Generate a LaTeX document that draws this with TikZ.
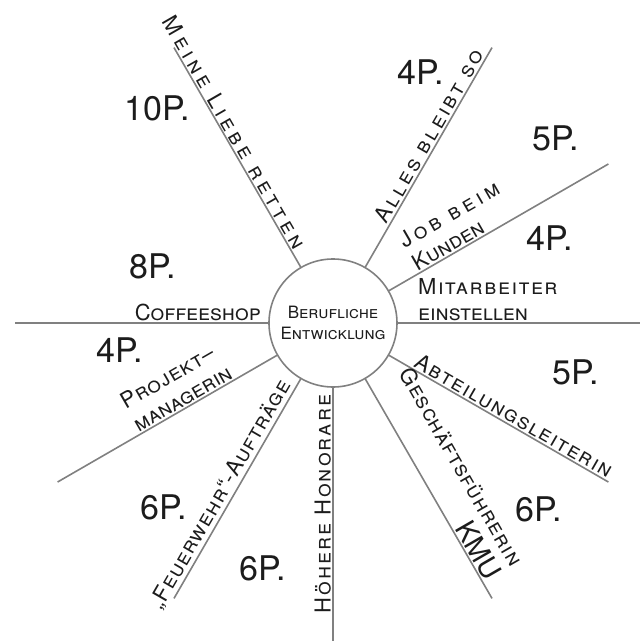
\documentclass[tikz,border=0pt]{standalone}
\usepackage{fontspec}
\setmainfont{TeX Gyre Heros}
\definecolor{spokegray}{RGB}{128,128,128}
\definecolor{inkblack}{RGB}{28,28,28}
\newcommand\track[1]{\addfontfeatures{LetterSpace=#1}}

\begin{document}
\begin{tikzpicture}[
  x=1pt, y=1pt,
  spoke/.style={draw=spokegray, line width=1.6pt},
  hubnode/.style={circle, draw=spokegray, line width=1.6pt, minimum size=128pt,
                  inner sep=0pt, align=center, text=inkblack,
                  font=\fontsize{17}{21}\selectfont\scshape},
  lab/.style={inner sep=2pt, text=inkblack, font=\fontsize{22}{26}\selectfont\scshape},
  pts/.style={inner sep=0pt, text=inkblack, font=\fontsize{34}{36}\selectfont}
]
  \useasboundingbox (-333,-320) rectangle (307,323);
  \node[hubnode] (hub) {Berufliche\\Entwicklung};

  % ends of the spokes
  \coordinate (e0) at (0:318);
  \coordinate (e30) at (30:318);
  \coordinate (e60) at (60:318);
  \coordinate (e120) at (120:318);
  \coordinate (e180) at (180:318);
  \coordinate (e210) at (210:318);
  \coordinate (e240) at (240:318);
  \coordinate (e270) at (270:318);
  \coordinate (e300) at (300:318);
  \coordinate (e330) at (330:318);

  \draw[spoke] (hub.0) -- (e0);
  \draw[spoke] (hub.30) -- (e30);
  \draw[spoke] (hub.60) -- (e60);
  \draw[spoke] (hub.120) -- (e120);
  \draw[spoke] (hub.180) -- (e180);
  \draw[spoke] (hub.210) -- (e210);
  \draw[spoke] (hub.240) -- (e240);
  \draw[spoke] (hub.270) -- (e270);
  \draw[spoke] (hub.300) -- (e300);
  \draw[spoke] (hub.330) -- (e330);

  % options along the spokes
  \node[lab, rotate=-60, anchor=south] (liebe) at (120:214) {\track{20}Meine Liebe retten};
  \node[lab, rotate=60, anchor=south] (bleibt) at (60:210) {\track{14}Alles bleibt so};
  \node[lab, rotate=30, anchor=south west, align=left] (kunde) at (30:97)
    {\track{18}Job beim\\Kunden};
  \node[lab, anchor=south west, align=left] (mitarb) at (0:83)
    {\track{7}Mitarbeiter\\einstellen};
  \node[lab, anchor=south east] (coffee) at (180:70) {Coffeeshop};
  \node[lab, rotate=30, anchor=south west, align=left] (projekt) at (210:225)
    {\track{4}Projekt--\\managerin};
  \node[lab, rotate=60, anchor=south] (feuer) at (240:205)
    {\track{5}„Feuerwehr“-Aufträge};
  \node[lab, rotate=90, anchor=south] (honorar) at (270:181) {\track{9}Höhere Honorare};
  \node[lab, rotate=-60, anchor=south east, align=right] (gf) at (300:303)
    {\track{5}Geschäftsführerin\\[3pt]{\upshape\fontsize{28}{26}\selectfont KMU}};
  \node[lab, rotate=-30, anchor=south] (abtl) at (330:203) {\track{7}Abteilungsleiterin};

  % points
  \node[pts] (p10) at (-176,215) {10P.};
  \node[pts] (p4a) at (88,251) {4P.};
  \node[pts] (p5a) at (223,185) {5P.};
  \node[pts] (p4b) at (217,85) {4P.};
  \node[pts] (p8) at (-180,57) {8P.};
  \node[pts] (p4c) at (-213,-27) {4P.};
  \node[pts] (p5b) at (243,-49) {5P.};
  \node[pts] (p6a) at (-169,-184) {6P.};
  \node[pts] (p6b) at (-70,-245) {6P.};
  \node[pts] (p6c) at (206,-186) {6P.};
\end{tikzpicture}
\end{document}
